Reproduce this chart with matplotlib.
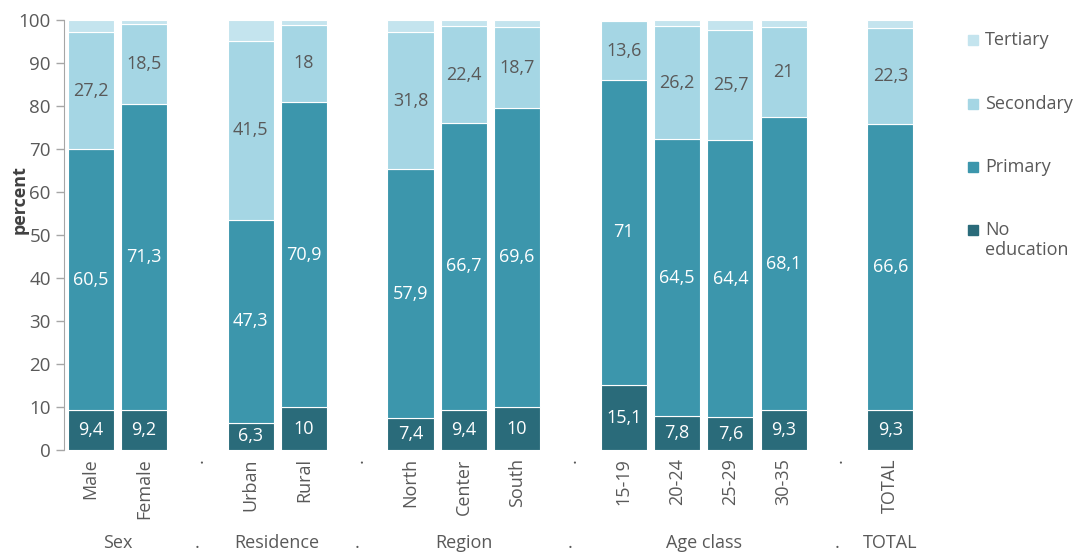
import matplotlib
matplotlib.use("Agg")
import matplotlib.pyplot as plt
from matplotlib.patches import Rectangle
from matplotlib.transforms import blended_transform_factory

plt.rcParams.update({"font.family": ["Open Sans", "DejaVu Sans"]})

# slots along the x axis; "." are the spacer slots between groups
SLOTS = ["Male", "Female", ".", "Urban", "Rural", ".", "North", "Center", "South", ".",
         "15-19", "20-24", "25-29", "30-35", ".", "TOTAL"]
GROUPS = ["Sex", ".", "Residence", ".", "Region", ".", "Age class", ".", "TOTAL"]
GROUP_POS = [0.5, 2, 3.5, 5, 7, 9, 11.5, 14, 15]

no_edu    = [9.4, 9.2, 6.3, 10, 7.4, 9.4, 10, 15.1, 7.8, 7.6, 9.3, 9.3]
primary   = [60.5, 71.3, 47.3, 70.9, 57.9, 66.7, 69.6, 71, 64.5, 64.4, 68.1, 66.6]
secondary = [27.2, 18.5, 41.5, 18, 31.8, 22.4, 18.7, 13.6, 26.2, 25.7, 21, 22.3]
tertiary  = [2.9, 1.0, 4.9, 1.1, 2.9, 1.5, 1.7, 0.3, 1.5, 2.3, 1.6, 1.8]

SERIES = [("No\neducation", no_edu, "#2a6b7a", "white"),
          ("Primary", primary, "#3c96ac", "white"),
          ("Secondary", secondary, "#a5d6e4", "#595959"),
          ("Tertiary", tertiary, "#c4e4ee", None)]
GREY = "#595959"

fig = plt.figure(figsize=(10.76, 5.52), dpi=100, facecolor="white")
ax = fig.add_axes([64/1076, 1-450/552, (917-64)/1076, 430/552])

xs = [i for i, s in enumerate(SLOTS) if s != "."]
bottom = [0.0] * len(xs)
for name, vals, color, tcol in SERIES:
    ax.bar(xs, vals, bottom=bottom, width=0.865, color=color, edgecolor="white", linewidth=0.8)
    if tcol:
        for x, b, v in zip(xs, bottom, vals):
            ax.text(x, b + v / 2, f"{v:g}".replace(".", ","), ha="center", va="center",
                    fontsize=13, color=tcol)
    bottom = [b + v for b, v in zip(bottom, vals)]

ax.set_xlim(-0.5, len(SLOTS) - 0.5)
ax.set_ylim(0, 100)
ax.set_yticks(range(0, 101, 10))
ax.tick_params(axis="y", labelsize=13.5, labelcolor=GREY, color="#a6a6a6", length=6, width=1)
ax.set_xticks(range(len(SLOTS)))
ax.set_xticklabels(SLOTS, rotation=90, fontsize=13, color=GREY)
ax.tick_params(axis="x", length=0, pad=6)
for sp in ["top", "right", "bottom"]:
    ax.spines[sp].set_visible(False)
ax.spines["left"].set_color("#a6a6a6")
# the label sits over the tick numbers, as in the original
ax.set_ylabel("percent", fontsize=13, fontweight="bold", color="#404040", va="center")
ax.yaxis.set_label_coords((20 - 64) / 853, (450 - 200) / 430)

tr = blended_transform_factory(ax.transData, fig.transFigure)
for g, p in zip(GROUPS, GROUP_POS):
    ax.text(p, 1 - 543/552, g, transform=tr, ha="center", va="center", fontsize=13, color=GREY)

# legend, drawn by hand (top: Tertiary)
leg_y = [40, 104, 167, 230]
for (name, vals, color, tcol), y in zip(SERIES[::-1], leg_y):
    fig.patches.append(Rectangle((968/1076, 1 - (y + 5)/552), 10/1076, 10/552,
                                 transform=fig.transFigure, color=color))
    fig.text(985/1076, 1 - (y - 9)/552, name, ha="left", va="top", fontsize=13, color=GREY,
             linespacing=1.15)

fig.savefig("out.png", dpi=100, facecolor="white")
